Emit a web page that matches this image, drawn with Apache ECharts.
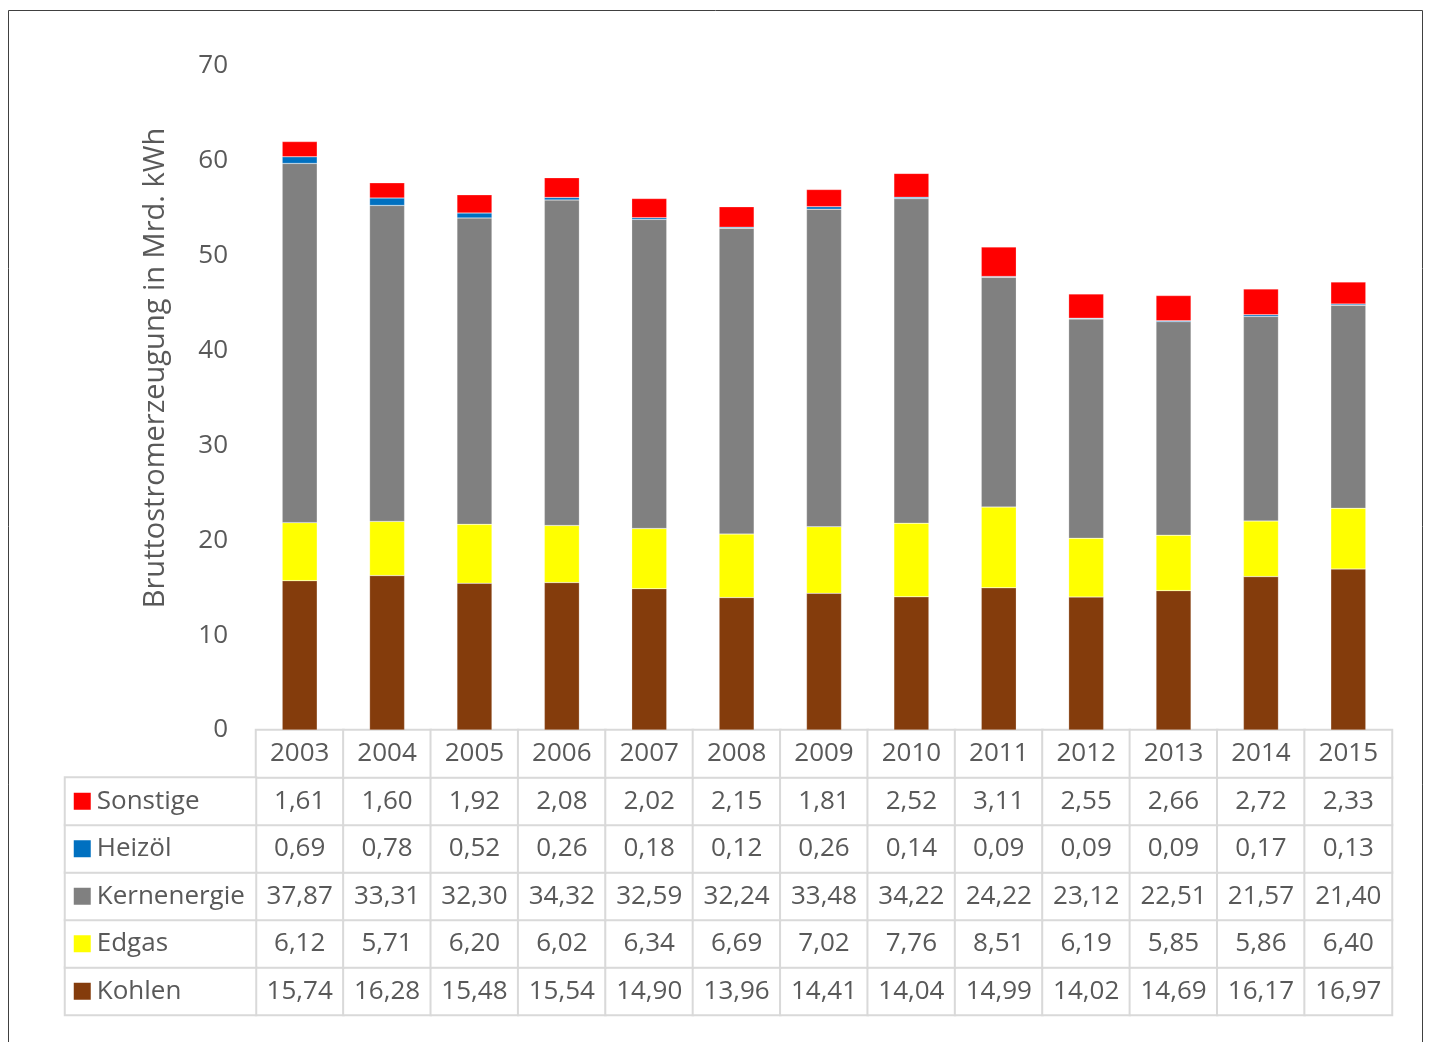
<!DOCTYPE html>
<html>
<head>
<meta charset="utf-8">
<script src="https://cdn.jsdelivr.net/npm/echarts@6/dist/echarts.min.js"></script>
<style>html,body{margin:0;padding:0;background:#fff}#c{width:1432px;height:1042px}</style>
</head>
<body>
<div id="c"></div>
<script>
const years = ['2003','2004','2005','2006','2007','2008','2009','2010','2011','2012','2013','2014','2015'];
const kohlen      = [15.74,16.28,15.48,15.54,14.90,13.96,14.41,14.04,14.99,14.02,14.69,16.17,16.97];
const edgas       = [6.12,5.71,6.20,6.02,6.34,6.69,7.02,7.76,8.51,6.19,5.85,5.86,6.40];
const kernenergie = [37.87,33.31,32.30,34.32,32.59,32.24,33.48,34.22,24.22,23.12,22.51,21.57,21.40];
const heizoel     = [0.69,0.78,0.52,0.26,0.18,0.12,0.26,0.14,0.09,0.09,0.09,0.17,0.13];
const sonstige    = [1.61,1.60,1.92,2.08,2.02,2.15,1.81,2.52,3.11,2.55,2.66,2.72,2.33];
const seriesNames = ['Kohlen','Edgas','Kernenergie','Heizöl','Sonstige'];
const yTicks = [0,10,20,30,40,50,60,70];

const colors = {Kohlen:'#843c0c', Edgas:'#ffff00', Kernenergie:'#808080', 'Heizöl':'#0070c0', Sonstige:'#ff0000'};
const seriesData = [kohlen, edgas, kernenergie, heizoel, sonstige];
const FONT = 'Open Sans';
const TXT = '#595959';
const LINE = '#d9d9d9';
const FS = 26;

// table data (rows bottom->top): 5 series + year row
const tableRows = seriesNames.concat(['Jahr']);
const tableCells = [];
seriesData.forEach((arr, r) => arr.forEach((v, c) => tableCells.push([c, r, v])));
years.forEach((y, c) => tableCells.push([c, 5, Number(y)]));
const headCells = seriesNames.map((n, r) => [0, r, r]);

const fmt = v => v > 1000 ? String(v) : v.toFixed(2).replace('.', ',');

const rich = {};
seriesNames.forEach((n, i) => { rich['s' + i] = {width: 17, height: 17, backgroundColor: colors[n]}; });
rich.t = {fontFamily: FONT, fontSize: FS, color: TXT, padding: [0, 0, 0, 6]};

const chart = echarts.init(document.getElementById('c'));
chart.setOption({
  animation: false,
  backgroundColor: '#fff',
  graphic: [{type: 'rect', shape: {x: 8.5, y: 10.5, width: 1414, height: 1100}, style: {fill: 'none', stroke: '#404040', lineWidth: 1}, silent: true}],
  grid: [
    {left: 256, right: 40, top: 66, height: 664},
    {left: 256, right: 40, top: 730, height: 285},
    {left: 65, width: 191, top: 777.5, height: 237.5}
  ],
  xAxis: [
    {gridIndex: 0, type: 'category', data: years, axisTick: {show: false}, axisLabel: {show: false}, axisLine: {lineStyle: {color: LINE, width: 1.5}}},
    {gridIndex: 1, type: 'category', data: years, show: false},
    {gridIndex: 2, type: 'category', data: ['h'], show: false}
  ],
  yAxis: [
    {gridIndex: 0, type: 'value', min: 0, max: 70, interval: 10, splitLine: {show: false}, axisLine: {show: false}, axisTick: {show: false},
     axisLabel: {margin: 28, fontFamily: FONT, fontSize: FS, color: TXT, formatter: v => yTicks.includes(v) ? String(v) : ''},
     name: 'Bruttostromerzeugung in Mrd. kWh', nameLocation: 'middle', nameGap: 86, nameRotate: 90,
     nameTextStyle: {fontFamily: FONT, fontSize: 29, color: TXT, padding: [0, 0, 0, 60]}},
    {gridIndex: 1, type: 'category', data: tableRows, show: false},
    {gridIndex: 2, type: 'category', data: seriesNames, show: false}
  ],
  series: seriesData.map((arr, i) => ({
    name: seriesNames[i], type: 'bar', stack: 'total', data: arr, barWidth: 35,
    xAxisIndex: 0, yAxisIndex: 0,
    itemStyle: {color: colors[seriesNames[i]], borderColor: 'rgba(255,255,255,0.45)', borderWidth: 0.5}
  })).concat([
    {type: 'heatmap', xAxisIndex: 1, yAxisIndex: 1, data: tableCells,
     itemStyle: {color: '#ffffff', borderColor: LINE, borderWidth: 2},
     label: {show: true, fontFamily: FONT, fontSize: FS, color: TXT, formatter: p => fmt(p.value[2])},
     emphasis: {disabled: true}},
    {type: 'heatmap', xAxisIndex: 2, yAxisIndex: 2, data: headCells,
     itemStyle: {color: '#ffffff', borderColor: LINE, borderWidth: 2},
     label: {show: true, position: 'insideLeft', distance: 10, formatter: p => '{s' + p.value[2] + '|}{t|' + seriesNames[p.value[2]] + '}', rich: rich},
     emphasis: {disabled: true}}
  ])
});
</script>
</body>
</html>
